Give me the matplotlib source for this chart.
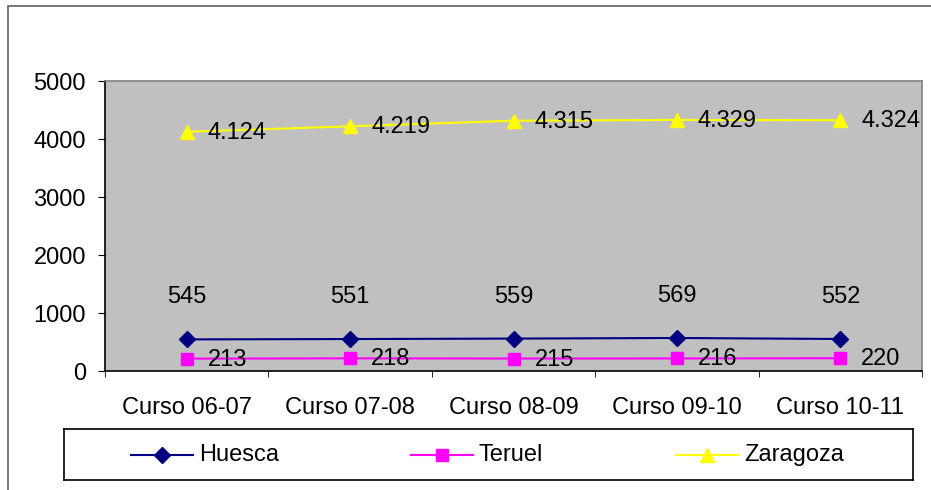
import matplotlib
matplotlib.use("Agg")
import matplotlib.pyplot as plt
from matplotlib.patches import Rectangle
from matplotlib.lines import Line2D

categories = ["Curso 06-07", "Curso 07-08", "Curso 08-09", "Curso 09-10", "Curso 10-11"]
huesca = [545, 551, 559, 569, 552]
teruel = [213, 218, 215, 216, 220]
zaragoza = [4124, 4219, 4315, 4329, 4324]
zaragoza_labels = ["4.124", "4.219", "4.315", "4.329", "4.324"]

plt.rcParams['font.family'] = ['Liberation Sans', 'DejaVu Sans']
W, H = 931, 490
fig = plt.figure(figsize=(W / 100, H / 100), dpi=100)
fig.patch.set_facecolor("white")

PX = 0.72  # points per pixel at dpi 100

# outer frame
fig.add_artist(Rectangle((8 / W, -0.1), 1.2, 1 - 6 / H + 0.1, transform=fig.transFigure,
                         fill=False, edgecolor="#606060", linewidth=1.2))

left, right, top, bottom = 105 / W, 922 / W, 1 - 81 / H, 1 - 371 / H
ax = fig.add_axes([left, bottom, right - left, top - bottom])
ax.set_facecolor("#C0C0C0")
x = list(range(len(categories)))

ax.plot(x, huesca, color="#000080", marker="D", markersize=8, linewidth=1.5, label="Huesca", clip_on=False)
ax.plot(x, teruel, color="#FF00FF", marker="s", markersize=9, linewidth=1.5, label="Teruel", clip_on=False)
ax.plot(x, zaragoza, color="#FFFF00", marker="^", markersize=10.5, linewidth=1.5, label="Zaragoza", clip_on=False)

fs = 17
for xi, v in zip(x, huesca):
    ax.annotate(str(v), (xi, v), xytext=(0, 42 * PX), textcoords="offset points", ha="center", va="center",
                fontsize=fs)
for xi, v in zip(x, teruel):
    ax.annotate(str(v), (xi, v), xytext=(21 * PX, -1 * PX), textcoords="offset points", ha="left",
                va="center", fontsize=fs)
for xi, v, lab in zip(x, zaragoza, zaragoza_labels):
    ax.annotate(lab, (xi, v), xytext=(21 * PX, -1 * PX), textcoords="offset points", ha="left",
                va="center", fontsize=fs)

ax.set_xlim(-0.5, len(categories) - 0.5)
ax.set_ylim(0, 5000)
ax.set_yticks(range(0, 5001, 1000))
ax.set_xticks(x)
ax.set_xticklabels(categories)
ax.set_xticks([i + 0.5 for i in range(-1, len(categories))], minor=True)
ax.tick_params(axis="x", which="major", length=0, pad=26 * PX, labelsize=fs)
ax.tick_params(axis="x", which="minor", length=6 * PX, direction="out")
ax.tick_params(axis="y", length=7 * PX, direction="out", labelsize=fs, pad=12 * PX)
for s in ["top", "right"]:
    ax.spines[s].set_color("#808080")
    ax.spines[s].set_linewidth(1.2)
for s in ["left", "bottom"]:
    ax.spines[s].set_color("black")
    ax.spines[s].set_linewidth(1.2)

# legend box
lx0, ly0, lx1, ly1 = 64 / W, 1 - 480 / H, 913 / W, 1 - 429 / H
lax = fig.add_axes([lx0, ly0, lx1 - lx0, ly1 - ly0])
lax.set_xlim(lx0 * W, lx1 * W)
lax.set_ylim(0, 1)
lax.set_xticks([])
lax.set_yticks([])
for s in lax.spines.values():
    s.set_color("black")
    s.set_linewidth(1.2)
legend_items = [("Huesca", "#000080", "D", 8, 131), ("Teruel", "#FF00FF", "s", 9, 411),
                ("Zaragoza", "#FFFF00", "^", 10.5, 676)]
for name, col, mk, ms, x0 in legend_items:
    lax.add_line(Line2D([x0, x0 + 62], [0.5, 0.5], color=col, linewidth=1.5))
    lax.add_line(Line2D([x0 + 31], [0.5], color=col, marker=mk, markersize=ms, linestyle="none"))
    lax.text(x0 + 68, 0.5, name, fontsize=fs, va="center", ha="left")

fig.savefig("out.png", dpi=100)
